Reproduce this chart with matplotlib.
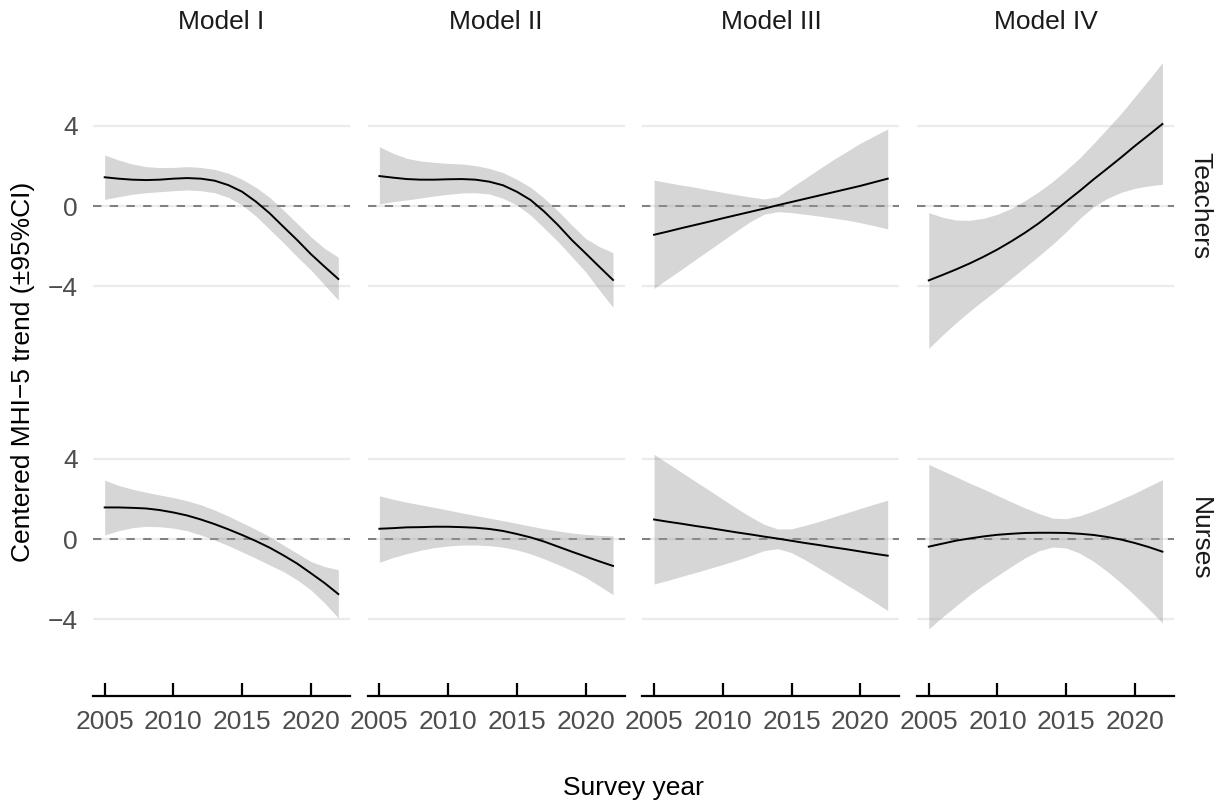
import matplotlib
matplotlib.use("Agg")
import matplotlib.pyplot as plt
import numpy as np

plt.rcParams['font.family'] = ['Liberation Sans', 'DejaVu Sans']

# ---------------- data ----------------
years = [2005, 2006, 2007, 2008, 2009, 2010, 2011, 2012, 2013,
         2014, 2015, 2016, 2017, 2018, 2019, 2020, 2021, 2022]
models = ["Model I", "Model II", "Model III", "Model IV"]
groups = ["Teachers", "Nurses"]
x_ticks = [2005, 2010, 2015, 2020]
y_ticks = [-4, 0, 4]

# Teachers
teachers_m1_fit = [1.43, 1.36, 1.31, 1.29, 1.31, 1.36, 1.39, 1.36, 1.26, 1.04, 0.71, 0.22, -0.36, -1.03, -1.69, -2.39, -3.02, -3.63]
teachers_m1_hi = [2.54, 2.29, 2.09, 1.96, 1.91, 1.92, 1.96, 1.92, 1.82, 1.63, 1.33, 0.93, 0.43, -0.20, -0.86, -1.53, -2.11, -2.55]
teachers_m1_lo = [0.33, 0.46, 0.58, 0.66, 0.71, 0.76, 0.80, 0.76, 0.66, 0.43, 0.05, -0.50, -1.16, -1.82, -2.52, -3.18, -3.93, -4.68]

teachers_m2_fit = [1.49, 1.41, 1.34, 1.31, 1.31, 1.33, 1.34, 1.31, 1.21, 1.03, 0.71, 0.30, -0.28, -0.95, -1.69, -2.35, -3.02, -3.68]
teachers_m2_hi = [2.95, 2.62, 2.37, 2.24, 2.17, 2.12, 2.09, 2.01, 1.87, 1.66, 1.33, 0.93, 0.38, -0.25, -0.95, -1.61, -2.02, -2.32]
teachers_m2_lo = [0.10, 0.22, 0.30, 0.40, 0.50, 0.58, 0.65, 0.66, 0.60, 0.38, 0.05, -0.45, -1.11, -1.77, -2.52, -3.27, -4.18, -5.04]

teachers_m3_fit = [-1.43, -1.27, -1.10, -0.94, -0.78, -0.61, -0.45, -0.29, -0.13, 0.04, 0.20, 0.36, 0.52, 0.68, 0.84, 1.00, 1.18, 1.36]
teachers_m3_hi = [1.29, 1.16, 1.04, 0.93, 0.80, 0.68, 0.56, 0.45, 0.35, 0.46, 0.93, 1.38, 1.84, 2.29, 2.70, 3.12, 3.48, 3.83]
teachers_m3_lo = [-4.10, -3.62, -3.15, -2.67, -2.19, -1.72, -1.24, -0.78, -0.41, -0.28, -0.33, -0.41, -0.50, -0.60, -0.70, -0.83, -0.98, -1.14]

teachers_m4_fit = [-3.70, -3.43, -3.15, -2.85, -2.52, -2.16, -1.76, -1.33, -0.86, -0.33, 0.22, 0.76, 1.33, 1.87, 2.42, 2.99, 3.53, 4.08]
teachers_m4_hi = [-0.33, -0.56, -0.70, -0.71, -0.61, -0.41, -0.12, 0.27, 0.71, 1.21, 1.79, 2.40, 3.12, 3.86, 4.61, 5.44, 6.27, 7.13]
teachers_m4_lo = [-7.08, -6.42, -5.80, -5.22, -4.68, -4.15, -3.60, -3.05, -2.49, -1.91, -1.28, -0.61, -0.03, 0.38, 0.68, 0.88, 1.00, 1.08]

# Nurses
nurses_m1_fit = [1.57, 1.57, 1.55, 1.52, 1.44, 1.32, 1.17, 0.97, 0.74, 0.48, 0.20, -0.10, -0.43, -0.81, -1.22, -1.70, -2.19, -2.74]
nurses_m1_hi = [2.92, 2.67, 2.48, 2.33, 2.19, 2.06, 1.90, 1.70, 1.44, 1.14, 0.81, 0.48, 0.12, -0.30, -0.71, -1.12, -1.37, -1.53]
nurses_m1_lo = [0.20, 0.41, 0.56, 0.63, 0.61, 0.54, 0.41, 0.20, -0.05, -0.33, -0.64, -0.96, -1.29, -1.62, -2.03, -2.53, -3.18, -3.93]

nurses_m2_fit = [0.51, 0.54, 0.58, 0.59, 0.61, 0.61, 0.59, 0.56, 0.50, 0.40, 0.25, 0.08, -0.13, -0.38, -0.63, -0.87, -1.11, -1.34]
nurses_m2_hi = [2.15, 1.98, 1.83, 1.70, 1.57, 1.44, 1.30, 1.17, 1.04, 0.91, 0.78, 0.64, 0.51, 0.40, 0.30, 0.23, 0.18, 0.15]
nurses_m2_lo = [-1.16, -0.92, -0.73, -0.56, -0.43, -0.35, -0.30, -0.30, -0.33, -0.41, -0.54, -0.74, -0.99, -1.27, -1.57, -1.91, -2.33, -2.77]

nurses_m3_fit = [0.97, 0.86, 0.76, 0.65, 0.55, 0.44, 0.33, 0.23, 0.12, 0.02, -0.09, -0.20, -0.30, -0.41, -0.51, -0.62, -0.73, -0.83]
nurses_m3_hi = [4.21, 3.76, 3.32, 2.87, 2.43, 1.98, 1.53, 1.11, 0.73, 0.50, 0.51, 0.68, 0.87, 1.09, 1.30, 1.52, 1.73, 1.93]
nurses_m3_lo = [-2.24, -2.06, -1.86, -1.67, -1.47, -1.27, -1.06, -0.83, -0.58, -0.48, -0.68, -1.04, -1.45, -1.86, -2.28, -2.69, -3.12, -3.56]

nurses_m4_fit = [-0.38, -0.23, -0.08, 0.03, 0.13, 0.21, 0.26, 0.30, 0.31, 0.31, 0.30, 0.26, 0.20, 0.10, -0.03, -0.20, -0.40, -0.63]
nurses_m4_hi = [3.71, 3.40, 3.09, 2.77, 2.48, 2.16, 1.85, 1.55, 1.27, 1.04, 1.01, 1.16, 1.40, 1.68, 1.98, 2.28, 2.62, 2.95]
nurses_m4_lo = [-4.47, -3.88, -3.32, -2.77, -2.28, -1.82, -1.37, -0.94, -0.59, -0.40, -0.45, -0.71, -1.12, -1.62, -2.19, -2.81, -3.48, -4.17]

panels = {
    ("Teachers", "Model I"): (teachers_m1_fit, teachers_m1_lo, teachers_m1_hi),
    ("Teachers", "Model II"): (teachers_m2_fit, teachers_m2_lo, teachers_m2_hi),
    ("Teachers", "Model III"): (teachers_m3_fit, teachers_m3_lo, teachers_m3_hi),
    ("Teachers", "Model IV"): (teachers_m4_fit, teachers_m4_lo, teachers_m4_hi),
    ("Nurses", "Model I"): (nurses_m1_fit, nurses_m1_lo, nurses_m1_hi),
    ("Nurses", "Model II"): (nurses_m2_fit, nurses_m2_lo, nurses_m2_hi),
    ("Nurses", "Model III"): (nurses_m3_fit, nurses_m3_lo, nurses_m3_hi),
    ("Nurses", "Model IV"): (nurses_m4_fit, nurses_m4_lo, nurses_m4_hi),
}

# ---------------- layout ----------------
W, H = 1219, 806
fig = plt.figure(figsize=(W / 100, H / 100), dpi=100)

col_lefts = [93, 367.7, 642.4, 917.1]
panel_w = 257
row_tops = [48.4, 381.4]
panel_h = 314.2

all_vals = np.concatenate([np.concatenate(v) for v in panels.values()])
ymin, ymax = all_vals.min(), all_vals.max()
yr = ymax - ymin
ylim = (ymin - 0.05 * yr, ymax + 0.05 * yr)
xr = years[-1] - years[0]
xlim = (years[0] - 0.05 * xr, years[-1] + 0.05 * xr)

fs = 19
grey_txt = "#4D4D4D"

for r, g in enumerate(groups):
    for c, m in enumerate(models):
        ax = fig.add_axes([col_lefts[c] / W, 1 - (row_tops[r] + panel_h) / H,
                           panel_w / W, panel_h / H])
        fit, lo, hi = panels[(g, m)]
        ax.set_xlim(*xlim)
        ax.set_ylim(*ylim)
        ax.set_yticks(y_ticks)
        ax.grid(axis="y", color="#EBEBEB", lw=1.6, zorder=0)
        ax.grid(axis="x", visible=False)
        ax.set_axisbelow(True)
        ax.axhline(0, color="#7F7F7F", lw=1.4, dashes=(4.3, 4.3), zorder=1)
        ax.fill_between(years, lo, hi, color="#999999", alpha=0.4, lw=0, zorder=2)
        ax.plot(years, fit, color="black", lw=1.4, zorder=3)
        for s in ["top", "right", "left"]:
            ax.spines[s].set_visible(False)
        ax.tick_params(axis="y", length=0, pad=11, labelsize=fs, labelcolor=grey_txt)
        if c == 0:
            ax.set_yticklabels(["\u22124", "0", "4"])
        else:
            ax.set_yticklabels([])
        ax.set_xticks(x_ticks)
        if r == len(groups) - 1:
            ax.spines["bottom"].set_visible(True)
            ax.spines["bottom"].set_linewidth(1.6)
            ax.spines["bottom"].set_color("black")
            ax.tick_params(axis="x", direction="in", length=9.5, width=1.6,
                           color="black", pad=10.5, labelsize=fs, labelcolor=grey_txt)
        else:
            ax.spines["bottom"].set_visible(False)
            ax.tick_params(axis="x", length=0, labelbottom=False)
        if r == 0:
            fig.text((col_lefts[c] + panel_w / 2) / W, 1 - 22 / H, m,
                     ha="center", va="center", fontsize=fs, color="#1A1A1A")
        if c == len(models) - 1:
            fig.text(1200 / W, 1 - (row_tops[r] + panel_h / 2) / H, g,
                     ha="center", va="center", rotation=270, fontsize=fs, color="#1A1A1A")

fig.text(23 / W, 1 - 372 / H, "Centered MHI\u22125 trend (\u00b195%CI)", rotation=90,
         ha="center", va="center", fontsize=fs, color="black")
fig.text(633 / W, 1 - 788 / H, "Survey year", ha="center", va="center",
         fontsize=fs, color="black")

fig.savefig("out.png", dpi=100, facecolor="white")
